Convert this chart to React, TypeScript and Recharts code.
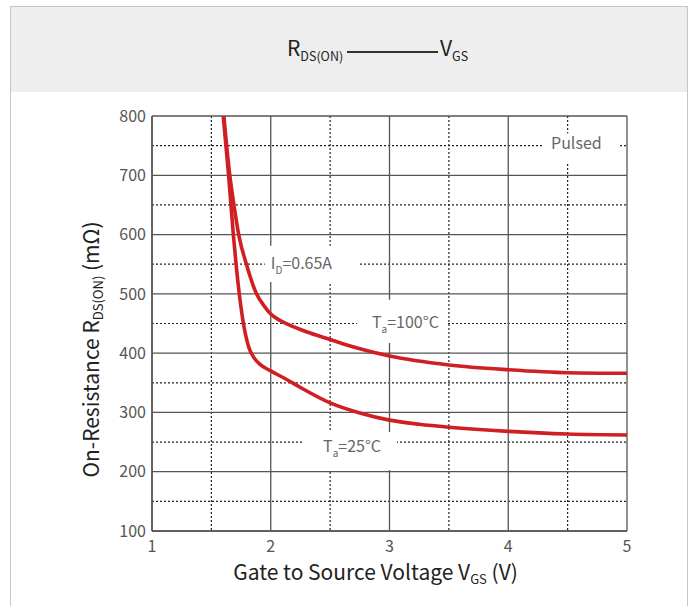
import React from 'react';
import { LineChart, Line, XAxis, YAxis, CartesianGrid, ReferenceArea } from 'recharts';

// Gate-source voltage (V) and on-resistance (mΩ)
const vgs100 = [1.605, 1.655, 1.69, 1.73, 1.795, 1.88, 1.95, 2.0, 2.08, 2.15, 2.3, 2.5, 2.72, 3.0, 3.5, 4.0, 4.5, 5.0];
const rds100 = [800, 700, 650, 600, 550, 500, 478, 466, 455, 448, 436, 423, 409, 395, 380, 372, 367, 366];
const vgs25 = [1.6, 1.645, 1.685, 1.708, 1.735, 1.77, 1.815, 1.86, 1.91, 2.0, 2.13, 2.25, 2.5, 2.75, 3.0, 3.25, 3.5, 4.0, 4.5, 5.0];
const rds25 = [800, 700, 600, 550, 500, 450, 410, 392, 381, 370, 356, 342, 316, 299, 287, 280, 275, 268, 263.5, 262];

const xTicks = [1, 2, 3, 4, 5];
const xMinor = [1.5, 2.5, 3.5, 4.5];
const yTicks = [100, 200, 300, 400, 500, 600, 700, 800];
const yMinor = [150, 250, 350, 450, 550, 650, 750];

// Annotation boxes (data coordinates) and their text
const annoX1 = [1.95, 2.726, 2.272, 4.293];
const annoX2 = [2.735, 3.493, 3.063, 4.941];
const annoY1 = [520, 417, 203, 722];
const annoY2 = [581, 490, 267, 771];
const annoTextY = [552, 452.5, 243.5, 754.5];
const annoMain = ['I', 'T', 'T', 'Pulsed'];
const annoSub = ['D', 'a', 'a', ''];
const annoRest = ['=0.65A', '=100°C', '=25°C', ''];
const annoPad = [6, 15, 20, 8];

const data100 = vgs100.map((v, i) => ({ v, r: rds100[i] }));
const data25 = vgs25.map((v, i) => ({ v, r: rds25[i] }));

const FONT = '"Noto Sans CJK SC", "Noto Sans", sans-serif';
const RED = '#d01f22';

const AnnoLabel = (props: any) => {
  const { viewBox, idx } = props;
  if (!viewBox) return null;
  const x = viewBox.x + annoPad[idx];
  const frac = (annoY2[idx] - annoTextY[idx]) / (annoY2[idx] - annoY1[idx]);
  const y = viewBox.y + viewBox.height * frac;
  return (
    <text x={x} y={y} dy="0.36em" fontFamily={FONT} fontSize={16} fill="#666" textAnchor="start">
      {annoMain[idx]}
      {annoSub[idx] ? (
        <tspan fontSize={10} dy={5}>{annoSub[idx]}</tspan>
      ) : null}
      {annoRest[idx] ? <tspan dy={annoSub[idx] ? -5 : 0}>{annoRest[idx]}</tspan> : null}
    </text>
  );
};

const XLabel = (props: any) => {
  const { viewBox } = props;
  if (!viewBox) return null;
  const cx = viewBox.x + viewBox.width / 2 - 14;
  const y = viewBox.y + 49;
  return (
    <text x={cx} y={y} textAnchor="middle" fontFamily={FONT} fontSize={21} fill="#222">
      Gate to Source Voltage V
      <tspan fontSize={13} dy={4}>GS</tspan>
      <tspan dy={-4}> (V)</tspan>
    </text>
  );
};

const YLabel = (props: any) => {
  const { viewBox } = props;
  if (!viewBox) return null;
  const x = viewBox.x + 7;
  const cy = viewBox.y + viewBox.height / 2 + 26;
  return (
    <text
      x={x}
      y={cy}
      textAnchor="middle"
      fontFamily={FONT}
      fontSize={21}
      fill="#222"
      transform={`rotate(-90, ${x}, ${cy})`}
    >
      On-Resistance R
      <tspan fontSize={13} dy={4}>DS(ON)</tspan>
      <tspan dy={-4}> (mΩ)</tspan>
    </text>
  );
};

export default function App() {
  return (
    <div style={{ position: 'absolute', left: 0, top: 0, width: 697, height: 606, overflow: 'hidden', background: '#fff' }}>
      <div
        style={{
          position: 'absolute',
          left: 10,
          top: 6,
          width: 678,
          height: 600,
          boxSizing: 'border-box',
          borderLeft: '1.5px solid #c6c6c6',
          borderRight: '1.5px solid #c6c6c6',
          borderTop: '1.5px solid #c6c6c6',
        }}
      >
        <div style={{ position: 'absolute', left: 0, right: 0, top: 0, height: 85, background: '#eeeeee' }} />
      </div>
      <svg width={697} height={92} style={{ position: 'absolute', left: 0, top: 0 }}>
        <text x={287} y={56} fontFamily={FONT} fontSize={21} fill="#222">
          R
          <tspan fontSize={12.5} dy={5}>DS(ON)</tspan>
        </text>
        <line x1={347} x2={438} y1={52} y2={52} stroke="#333" strokeWidth={2} />
        <text x={440} y={56} fontFamily={FONT} fontSize={21} fill="#222">
          V
          <tspan fontSize={12.5} dy={5}>GS</tspan>
        </text>
      </svg>
      <div style={{ position: 'absolute', left: 0, top: 0 }}>
        <LineChart
          width={697}
          height={606}
          margin={{ top: 116, right: 70, bottom: 45, left: 92 }}
        >
          <CartesianGrid
            horizontalValues={yMinor}
            verticalValues={xMinor}
            stroke="#222"
            strokeWidth={1.2}
            strokeDasharray="2 2"
          />
          <CartesianGrid
            horizontalValues={yTicks}
            verticalValues={xTicks}
            stroke="#555"
            strokeWidth={1.3}
          />
          <XAxis
            type="number"
            dataKey="v"
            domain={[1, 5]}
            ticks={xTicks}
            allowDataOverflow
            height={30}
            tickLine={false}
            tickMargin={4}
            axisLine={{ stroke: '#555', strokeWidth: 1.5 }}
            tick={{ fontSize: 16, fill: '#555', fontFamily: FONT }}
            label={<XLabel />}
          />
          <YAxis
            type="number"
            dataKey="r"
            domain={[100, 800]}
            ticks={yTicks}
            allowDataOverflow
            width={60}
            tickLine={false}
            tickMargin={0}
            axisLine={{ stroke: '#555', strokeWidth: 1.5 }}
            tick={{ fontSize: 16, fill: '#555', fontFamily: FONT }}
            label={<YLabel />}
          />
          {annoMain.map((_, i) => (
            <ReferenceArea
              key={i}
              x1={annoX1[i]}
              x2={annoX2[i]}
              y1={annoY1[i]}
              y2={annoY2[i]}
              fill="#ffffff"
              fillOpacity={1}
              stroke="none"
              label={(p: any) => <AnnoLabel {...p} idx={i} />}
            />
          ))}
          <Line
            data={data100}
            dataKey="r"
            type="monotone"
            stroke={RED}
            strokeWidth={3.6}
            dot={false}
            activeDot={false}
            isAnimationActive={false}
          />
          <Line
            data={data25}
            dataKey="r"
            type="monotone"
            stroke={RED}
            strokeWidth={3.6}
            dot={false}
            activeDot={false}
            isAnimationActive={false}
          />
        </LineChart>
      </div>
    </div>
  );
}
